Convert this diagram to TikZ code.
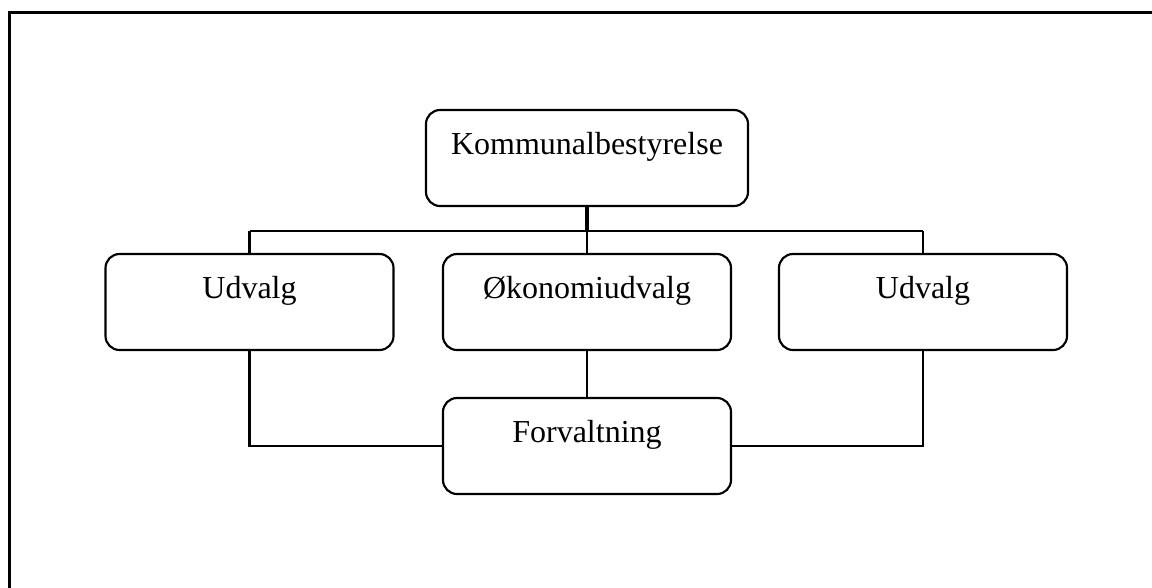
\documentclass[tikz,border=0pt]{standalone}
\usepackage{fontspec}
\setmainfont{Liberation Serif}
\begin{document}
\begin{tikzpicture}[x=0.75pt,y=-0.75pt,
  orgbox/.style={draw,line width=1.6pt,rounded corners=10.5pt,inner sep=0pt,
    text height=33pt,text depth=39pt,minimum width=216pt,
    font=\fontsize{24}{28}\selectfont},
  link/.style={line width=1.6pt},
  mainlink/.style={line width=2.6pt}]
\useasboundingbox (0,0) rectangle (1152,587);
\begin{scope}
\clip (0,0) rectangle (1152,587);
\draw[line width=2.3pt] (9.5,12.5) rectangle (1170,610);
\end{scope}
% boxes
\node[orgbox,minimum width=241.5pt] (kb) at (587,158) {Kommunalbestyrelse};
\node[orgbox] (u1) at (249.5,302) {Udvalg};
\node[orgbox] (ok) at (587,302) {Økonomiudvalg};
\node[orgbox] (u2) at (923,302) {Udvalg};
\node[orgbox] (fv) at (587,446) {Forvaltning};
% bus below the council
\coordinate (busL) at (249.5,231);
\coordinate (busC) at (587,231);
\coordinate (busR) at (923,231);
\draw[mainlink] (kb.south) -- (busC);
\draw[link] (busL) -- (busR);
\draw[link] (busL) -- (u1.north);
\draw[link] (busC) -- (ok.north);
\draw[link] (busR) -- (u2.north);
% lines to the administration
\draw[link] (ok.south) -- (fv.north);
\draw[link] (u1.south) |- (fv.west);
\draw[link] (u2.south) |- (fv.east);
\end{tikzpicture}
\end{document}
